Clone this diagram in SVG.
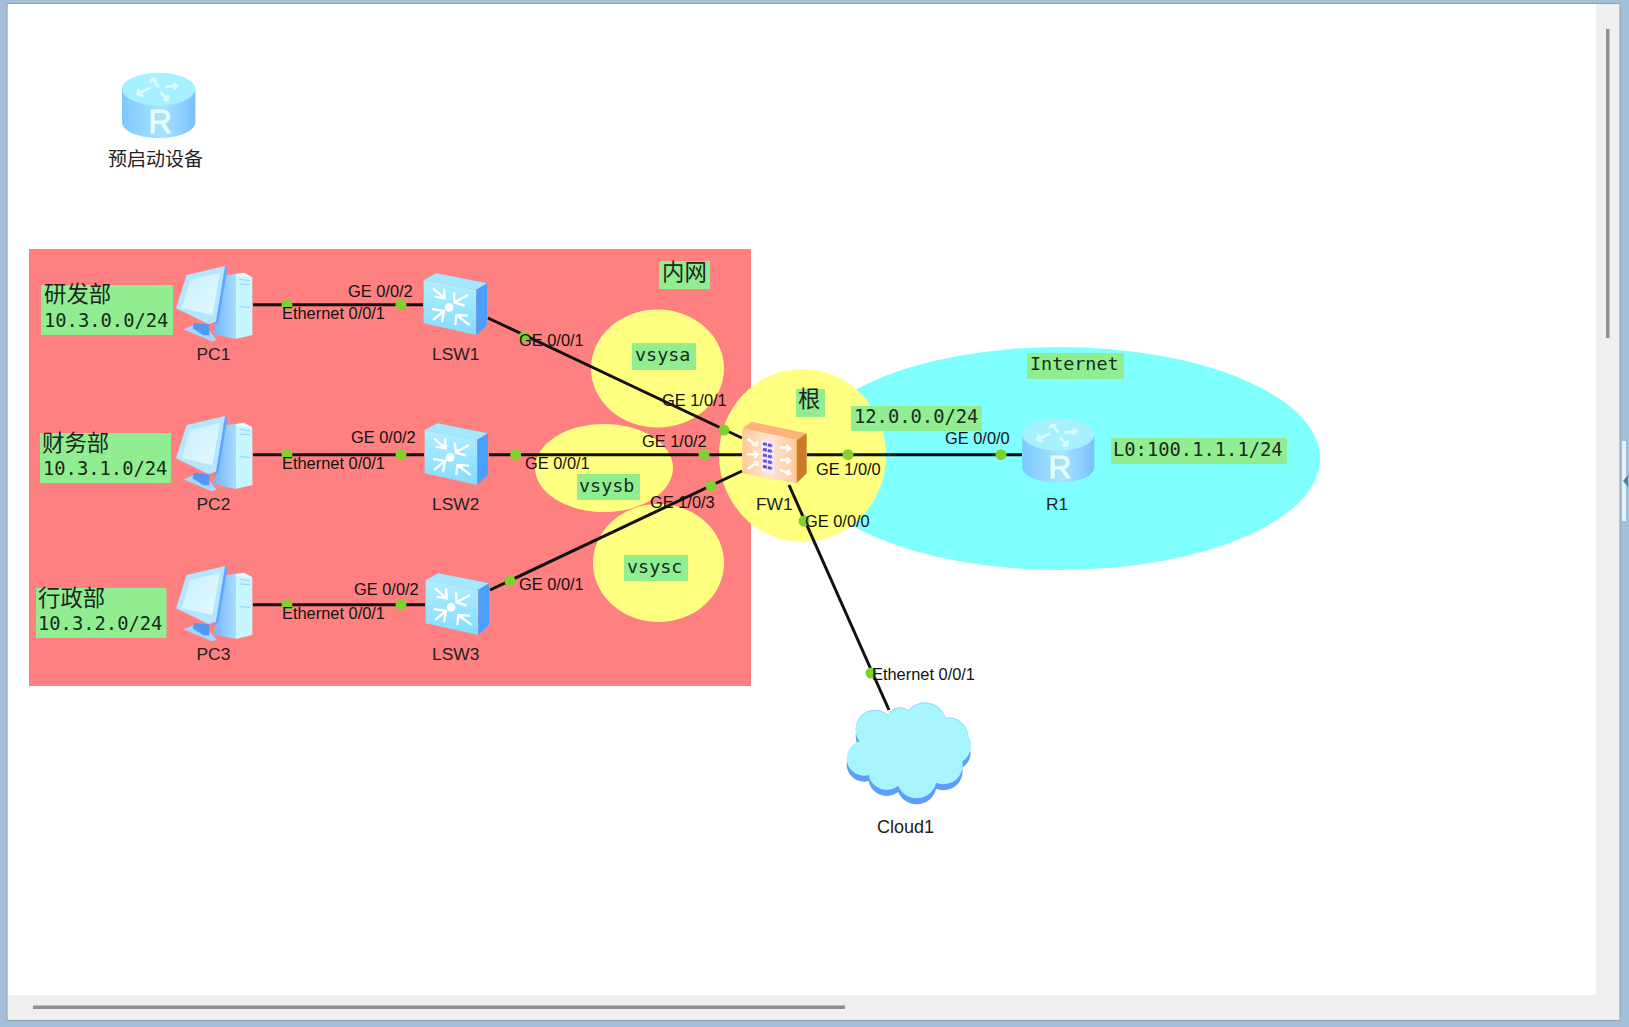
<svg xmlns="http://www.w3.org/2000/svg" xmlns:xlink="http://www.w3.org/1999/xlink" width="1629" height="1027" viewBox="0 0 1629 1027">
<style>
.mono{font-family:"DejaVu Sans Mono","Liberation Mono",monospace;font-size:18.4px;fill:#1a2a1a}
.ip{font-size:18.8px}
.cjk{font-family:"Noto Sans CJK SC","Liberation Sans",sans-serif;font-size:22.4px;fill:#222}
.port{font-family:"Liberation Sans",Arial,sans-serif;font-size:16.4px;fill:#111}
.name{font-family:"Liberation Sans",Arial,sans-serif;font-size:17.4px;fill:#222}
.tag{fill:#90ee90}
.link{stroke:#111;stroke-width:3;fill:none}
.dot{fill:#80d030}
.ar{stroke:#fff;stroke-width:7;fill:none}
</style>
<defs>
<filter id="soft" x="-5%" y="-5%" width="110%" height="110%"><feGaussianBlur stdDeviation="0.5"/></filter>
<linearGradient id="swF" x1="0" y1="0" x2="0" y2="1"><stop offset="0" stop-color="#b0eeff"/><stop offset="1" stop-color="#84dcff"/></linearGradient>
<linearGradient id="rtB" x1="0" y1="0" x2="1" y2="0"><stop offset="0" stop-color="#7cc8ff"/><stop offset=".55" stop-color="#a8e4ff"/><stop offset="1" stop-color="#78c0ff"/></linearGradient>
<linearGradient id="fwF" x1="0" y1="0" x2="1" y2="0"><stop offset="0" stop-color="#ffc89c"/><stop offset=".5" stop-color="#ffe6d2"/><stop offset="1" stop-color="#ffc89c"/></linearGradient>
<linearGradient id="pcT" x1="0" y1="0" x2="1" y2="0"><stop offset="0" stop-color="#70b4ff"/><stop offset="1" stop-color="#a8dcff"/></linearGradient>
<linearGradient id="pcS" x1="0" y1="0" x2="1" y2="1"><stop offset="0" stop-color="#c8eeff"/><stop offset="1" stop-color="#e4faff"/></linearGradient>
<g id="pc" filter="url(#soft)">
<path d="M160 46L197 42V237L130 222L140 185Z" fill="url(#pcT)"/>
<path d="M197 42L247 52V225L197 237Z" fill="#c8f6ff"/>
<path d="M197 42L222 38L247 52L197 48Z" fill="#e6fcff"/>
<path d="M208 58L240 62M208 72L240 74M208 140L240 142" stroke="#8cd2f4" stroke-width="3"/>
<path d="M40 208L72 195L104 195L140 240L125 244Z" fill="#a0d8ff"/>
<path d="M72 188L118 194V226L100 226L68 205Z" fill="#5098f4"/>
<path d="M18 145L50 45L165 18L168 30L138 185L115 192Z" fill="#b4e6ff"/>
<path d="M35 145L60 60L150 38L127 165Z" fill="url(#pcS)"/>
<path d="M165 18L172 25L145 190L125 196L138 185Z" fill="#5ea6ff"/>
</g>
<g id="sw" filter="url(#soft)">
<path d="M17 45L55 25L207 55L175 74Z" fill="#a2e8ff"/>
<path d="M17 45L175 74V210L17 175Z" fill="url(#swF)"/>
<path d="M175 74L207 55V180L175 210Z" fill="#4c9efc"/>
<circle cx="93" cy="127" r="13" fill="#fff"/>
<path class="ar" d="M45 70L80 100M50 95L80 100L78 70"/>
<path class="ar" d="M150 90L110 112M108 82L110 112L140 122"/>
<path class="ar" d="M45 165L78 138M42 132L78 138L72 172"/>
<path class="ar" d="M155 180L115 150M112 180L115 150L150 152"/>
</g>
<g id="rt" filter="url(#soft)">
<path d="M22 68V165C22 192 70 212 130 212C190 212 238 192 238 165V68Z" fill="url(#rtB)"/>
<ellipse cx="130" cy="68" rx="108" ry="48" fill="#a6f0ff"/>
<path stroke="#dcfbff" stroke-width="8" fill="none" d="M68 82L106 64M72 68L68 82L84 88M112 38L130 62M104 48L112 38L124 40M148 62L184 58M174 50L184 58L174 68M134 76L156 100M144 100L156 100L158 86"/>
<text x="135" y="198" text-anchor="middle" font-family="Liberation Sans,Arial,sans-serif" font-size="96" fill="#e9fdff" stroke="#e9fdff" stroke-width="2.500">R</text>
</g>
</defs>

<g id="window">
<rect x="0" y="0" width="1629" height="1027" fill="#a3bfd8"/>
<rect x="7" y="3.500" width="1613" height="1017" fill="#efefef" stroke="#8f9fae" stroke-width="1"/>
<rect x="8" y="4" width="1588" height="991" fill="#fff"/>
<rect x="1606" y="29" width="3.500" height="309" fill="#8f8f8f"/>
<rect x="33" y="1005.500" width="812" height="3.500" fill="#8f8f8f"/>
<rect x="1622" y="441" width="4" height="80" fill="#e6f2fb"/>
<path d="M1628 475L1623 481L1628 487Z" fill="#4c7ea8"/>
</g>

<g id="areas">
<rect x="29" y="249" width="722" height="437" fill="#ff8080"/>
<ellipse cx="1060" cy="458.500" rx="260" ry="111.500" fill="#80ffff"/>
<ellipse cx="657.500" cy="368.500" rx="66.500" ry="59" fill="#ffff80"/>
<ellipse cx="604" cy="468" rx="69" ry="44" fill="#ffff80"/>
<ellipse cx="658.500" cy="563" rx="65.500" ry="59" fill="#ffff80"/>
<ellipse cx="802.500" cy="455.500" rx="83.500" ry="86.500" fill="#ffff80"/>
</g>

<g id="connectors">
<line class="link" x1="253" y1="304.700" x2="423" y2="304.700"/>
<line class="link" x1="253" y1="454.700" x2="424" y2="454.700"/>
<line class="link" x1="253" y1="604.700" x2="425" y2="604.700"/>
<line class="link" x1="488" y1="318" x2="742" y2="438"/>
<line class="link" x1="489" y1="454.700" x2="742" y2="454.700"/>
<line class="link" x1="490" y1="590" x2="742" y2="471"/>
<line class="link" x1="807" y1="454.700" x2="1022" y2="454.700"/>
<line class="link" x1="789" y1="485" x2="889" y2="710"/>
<circle class="dot" cx="287" cy="304.700" r="5.500"/><circle class="dot" cx="401" cy="304.700" r="5.500"/>
<circle class="dot" cx="287" cy="454.700" r="5.500"/><circle class="dot" cx="401" cy="454.700" r="5.500"/>
<circle class="dot" cx="287" cy="604.700" r="5.500"/><circle class="dot" cx="401" cy="604.700" r="5.500"/>
<circle class="dot" cx="524" cy="337" r="5.500"/><circle class="dot" cx="724" cy="430" r="5.500"/>
<circle class="dot" cx="515.700" cy="454.700" r="5.500"/><circle class="dot" cx="704" cy="454.700" r="5.500"/>
<circle class="dot" cx="510" cy="581" r="5.500"/><circle class="dot" cx="711" cy="486" r="5.500"/>
<circle class="dot" cx="848" cy="454.700" r="5.500"/><circle class="dot" cx="1001" cy="454.700" r="5.500"/>
<circle class="dot" cx="804" cy="521" r="5.500"/><circle class="dot" cx="871" cy="673" r="5.500"/>
<text class="port" x="348" y="297">GE 0/0/2</text>
<text class="port" x="282" y="319">Ethernet 0/0/1</text>
<text class="port" x="351" y="443">GE 0/0/2</text>
<text class="port" x="282" y="469">Ethernet 0/0/1</text>
<text class="port" x="354" y="595">GE 0/0/2</text>
<text class="port" x="282" y="619">Ethernet 0/0/1</text>
<text class="port" x="519" y="346">GE 0/0/1</text>
<text class="port" x="662" y="406">GE 1/0/1</text>
<text class="port" x="642" y="447">GE 1/0/2</text>
<text class="port" x="525" y="469">GE 0/0/1</text>
<text class="port" x="650" y="508">GE 1/0/3</text>
<text class="port" x="519" y="590">GE 0/0/1</text>
<text class="port" x="816" y="475">GE 1/0/0</text>
<text class="port" x="805" y="527">GE 0/0/0</text>
<text class="port" x="945" y="444">GE 0/0/0</text>
<text class="port" x="872" y="680">Ethernet 0/0/1</text>
</g>

<g id="labels">
<rect class="tag" x="41" y="285" width="132" height="50"/>
<text class="cjk" x="44" y="302">研发部</text>
<text class="mono ip" x="44" y="327">10.3.0.0/24</text>
<rect class="tag" x="40" y="433" width="131" height="50"/>
<text class="cjk" x="42" y="451">财务部</text>
<text class="mono ip" x="43" y="475">10.3.1.0/24</text>
<rect class="tag" x="36" y="588" width="130.500" height="50"/>
<text class="cjk" x="38" y="606">行政部</text>
<text class="mono ip" x="38" y="630">10.3.2.0/24</text>
<rect class="tag" x="659" y="261" width="51" height="28"/>
<text class="cjk" x="662" y="280">内网</text>
<rect class="tag" x="632" y="343" width="64" height="27"/>
<text class="mono" x="635" y="361">vsysa</text>
<rect class="tag" x="577" y="474" width="63" height="26"/>
<text class="mono" x="579" y="492">vsysb</text>
<rect class="tag" x="624" y="555" width="64" height="26"/>
<text class="mono" x="627" y="573">vsysc</text>
<rect class="tag" x="796" y="389" width="29" height="28"/>
<text class="cjk" x="798" y="407">根</text>
<rect class="tag" x="851" y="406" width="131" height="25"/>
<text class="mono ip" x="854" y="423">12.0.0.0/24</text>
<rect class="tag" x="1027" y="353" width="97" height="26"/>
<text class="mono" x="1030" y="370">Internet</text>
<rect class="tag" x="1111" y="438" width="176" height="26"/>
<text class="mono ip" x="1113" y="456">L0:100.1.1.1/24</text>
</g>

<g id="preboot">
<use xlink:href="#rt" href="#rt" transform="translate(114.500,66) scale(.3400)"/>
<text class="cjk" x="108" y="166" style="font-size:19px">预启动设备</text>
</g>
<g id="PC1"><use xlink:href="#pc" href="#pc" transform="translate(170,260) scale(.3333)"/><text class="name" x="196.500" y="360">PC1</text></g>
<g id="PC2"><use xlink:href="#pc" href="#pc" transform="translate(170,410) scale(.3333)"/><text class="name" x="196.500" y="510">PC2</text></g>
<g id="PC3"><use xlink:href="#pc" href="#pc" transform="translate(170,560) scale(.3333)"/><text class="name" x="196.500" y="660">PC3</text></g>
<g id="LSW1"><use xlink:href="#sw" href="#sw" transform="translate(418,265) scale(.3333)"/><text class="name" x="432" y="360">LSW1</text></g>
<g id="LSW2"><use xlink:href="#sw" href="#sw" transform="translate(419,415) scale(.3333)"/><text class="name" x="432" y="510">LSW2</text></g>
<g id="LSW3"><use xlink:href="#sw" href="#sw" transform="translate(420,565) scale(.3333)"/><text class="name" x="432" y="660">LSW3</text></g>
<g id="FW1">
<g transform="translate(735,415) scale(.3333)" filter="url(#soft)">
<path d="M22 40L50 20L215 55L185 75Z" fill="#ffb27c"/>
<path d="M22 40L185 75V205L22 175Z" fill="url(#fwF)"/>
<path d="M185 75L215 55V175L185 205Z" fill="#cc7a2c"/>
<path d="M80 75L118 85V178L80 168Z" fill="#f2ecff"/>
<path d="M84 86L114 93M84 103L114 110M84 120L114 127M84 137L114 144M84 154L114 161" stroke="#6a4fd8" stroke-width="9" stroke-dasharray="12 3"/>
<path class="ar" stroke-width="6" d="M38 72L66 92M52 90H66V78M35 118H68M58 108L68 118L58 128M38 162L68 142M56 142H68V154M135 98H165M155 90L165 100L155 108M135 135H165M155 127L165 137L155 145M135 165L165 176M153 178L165 176L158 164"/>
</g>
<text class="name" x="756" y="510">FW1</text>
</g>
<g id="R1"><use xlink:href="#rt" href="#rt" transform="translate(1015,412) scale(.3333)"/><text class="name" x="1046" y="510">R1</text></g>
<g id="Cloud1">
<g transform="translate(820,650) scale(.3333)" filter="url(#soft)">
<g fill="#5c9dff" transform="translate(0,18)">
<circle cx="165" cy="240" r="58"/><circle cx="240" cy="215" r="40"/><circle cx="315" cy="225" r="65"/><circle cx="385" cy="265" r="60"/><circle cx="400" cy="290" r="52"/><circle cx="132" cy="325" r="52"/><circle cx="200" cy="365" r="55"/><circle cx="290" cy="385" r="60"/><circle cx="370" cy="345" r="58"/><ellipse cx="265" cy="300" rx="150" ry="110"/>
</g>
<g fill="#8cd4ff" transform="translate(0,-3)">
<circle cx="165" cy="240" r="58"/><circle cx="240" cy="215" r="40"/><circle cx="315" cy="225" r="65"/><circle cx="385" cy="265" r="60"/><circle cx="400" cy="290" r="52"/>
</g>
<g fill="#a9f5ff">
<circle cx="165" cy="240" r="58"/><circle cx="240" cy="215" r="40"/><circle cx="315" cy="225" r="65"/><circle cx="385" cy="265" r="60"/><circle cx="400" cy="290" r="52"/><circle cx="132" cy="325" r="52"/><circle cx="200" cy="365" r="55"/><circle cx="290" cy="385" r="60"/><circle cx="370" cy="345" r="58"/><ellipse cx="265" cy="300" rx="150" ry="110"/>
</g>
</g>
<text class="name" x="877" y="833" style="font-size:18px">Cloud1</text>
</g>
</svg>
